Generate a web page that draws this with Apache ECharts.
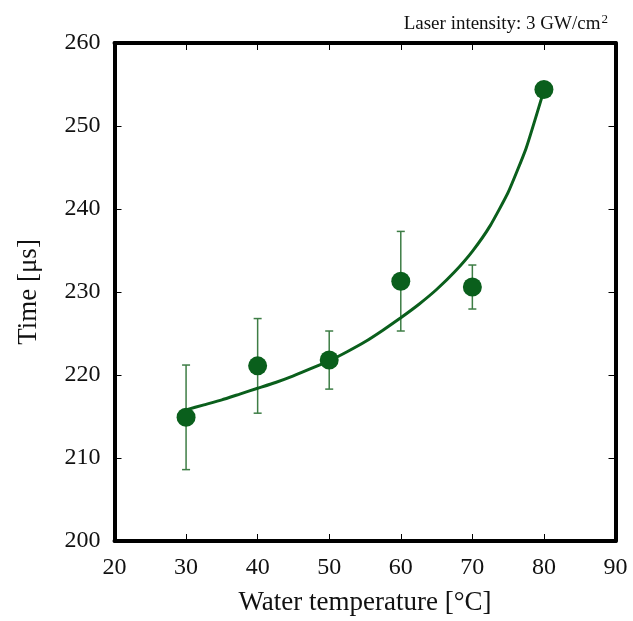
<!DOCTYPE html>
<html>
<head>
<meta charset="utf-8">
<script src="https://cdn.jsdelivr.net/npm/echarts@6/dist/echarts.min.js"></script>
<style>html,body{margin:0;padding:0;background:#fff}#c{width:633px;height:621px}</style>
</head>
<body>
<div id="c"></div>
<script>
// Measured data
const temps = [30, 40, 50, 60, 70, 80];
const times = [214.9, 221.1, 221.8, 231.3, 230.6, 254.4];
const errors = [6.3, 5.7, 3.5, 6.0, 2.65, 0];
// Fitted curve
const fitX = [30, 32.5, 35, 37.5, 40, 42.5, 45, 47.5, 50, 52.5, 55, 57.5, 60, 62.5, 65, 67.5, 70, 72.5, 75, 77.5, 80];
const fitY = [215.8, 216.4, 217.0, 217.7, 218.4, 219.1, 219.9, 220.8, 221.7, 222.8, 224.0, 225.4, 226.9, 228.5, 230.3, 232.4, 234.9, 238.0, 242.0, 247.3, 254.3];
const xTicks = [20, 30, 40, 50, 60, 70, 80, 90];
const yTicks = [200, 210, 220, 230, 240, 250, 260];

const green = '#0a5f1c';
const errColor = '#3d7d45';
const font = 'Liberation Serif';

const chart = echarts.init(document.getElementById('c'), null, {renderer: 'canvas'});

const baseX = {
  type: 'value', min: xTicks[0], max: xTicks[xTicks.length - 1], interval: 10,
  splitLine: {show: false},
  axisLine: {show: true, onZero: false, lineStyle: {color: '#000', width: 4}},
  axisTick: {show: true, inside: true, length: 7, lineStyle: {color: '#000', width: 1}}
};
const baseY = {
  type: 'value', min: yTicks[0], max: yTicks[yTicks.length - 1], interval: 10,
  splitLine: {show: false},
  axisLine: {show: true, onZero: false, lineStyle: {color: '#000', width: 4}},
  axisTick: {show: true, inside: true, length: 7, lineStyle: {color: '#000', width: 1}}
};

chart.setOption({
  animation: false,
  backgroundColor: '#fff',
  title: {
    text: '{a|Laser intensity: 3 GW/cm}{s|2}',
    right: 20, top: 8,
    textStyle: {
      fontWeight: 'normal',
      rich: {
        a: {fontFamily: font, fontSize: 19, fontWeight: 'normal', color: '#111', verticalAlign: 'bottom'},
        s: {fontFamily: font, fontSize: 13, fontWeight: 'normal', color: '#111', verticalAlign: 'top', padding: [0, 0, 8, 1]}
      }
    }
  },
  grid: {left: 114.5, right: 17.5, top: 43, bottom: 75.5, containLabel: false},
  xAxis: [
    Object.assign({}, baseX, {
      position: 'bottom',
      name: 'Water temperature [°C]', nameLocation: 'middle', nameGap: 48,
      nameTextStyle: {fontFamily: font, fontSize: 27, color: '#111'},
      axisLabel: {fontFamily: font, fontSize: 24, color: '#111', margin: 15}
    }),
    Object.assign({}, baseX, {position: 'top', axisLabel: {show: false}})
  ],
  yAxis: [
    Object.assign({}, baseY, {
      position: 'left',
      name: 'Time [μs]', nameLocation: 'middle', nameGap: 72,
      nameTextStyle: {fontFamily: font, fontSize: 27, color: '#111'},
      axisLabel: {fontFamily: font, fontSize: 24, color: '#111', margin: 14}
    }),
    Object.assign({}, baseY, {position: 'right', axisLabel: {show: false}})
  ],
  series: [
    {
      type: 'line',
      data: fitX.map((x, i) => [x, fitY[i]]),
      smooth: 0.15,
      showSymbol: false,
      lineStyle: {color: green, width: 3},
      z: 2
    },
    {
      type: 'custom',
      data: temps.map((x, i) => [x, times[i], errors[i]]),
      renderItem: function (params, api) {
        const x = api.value(0), y = api.value(1), e = api.value(2);
        if (!e) return null;
        const top = api.coord([x, y + e]);
        const bot = api.coord([x, y - e]);
        const hw = 4;
        const style = {stroke: errColor, lineWidth: 1.5};
        return {
          type: 'group',
          children: [
            {type: 'line', shape: {x1: top[0], y1: top[1], x2: bot[0], y2: bot[1]}, style: style},
            {type: 'line', shape: {x1: top[0] - hw, y1: top[1], x2: top[0] + hw, y2: top[1]}, style: style},
            {type: 'line', shape: {x1: bot[0] - hw, y1: bot[1], x2: bot[0] + hw, y2: bot[1]}, style: style}
          ]
        };
      },
      z: 1
    },
    {
      type: 'scatter',
      data: temps.map((x, i) => [x, times[i]]),
      symbol: 'circle',
      symbolSize: 19,
      itemStyle: {color: green, opacity: 1},
      z: 3
    }
  ]
});
</script>
</body>
</html>
